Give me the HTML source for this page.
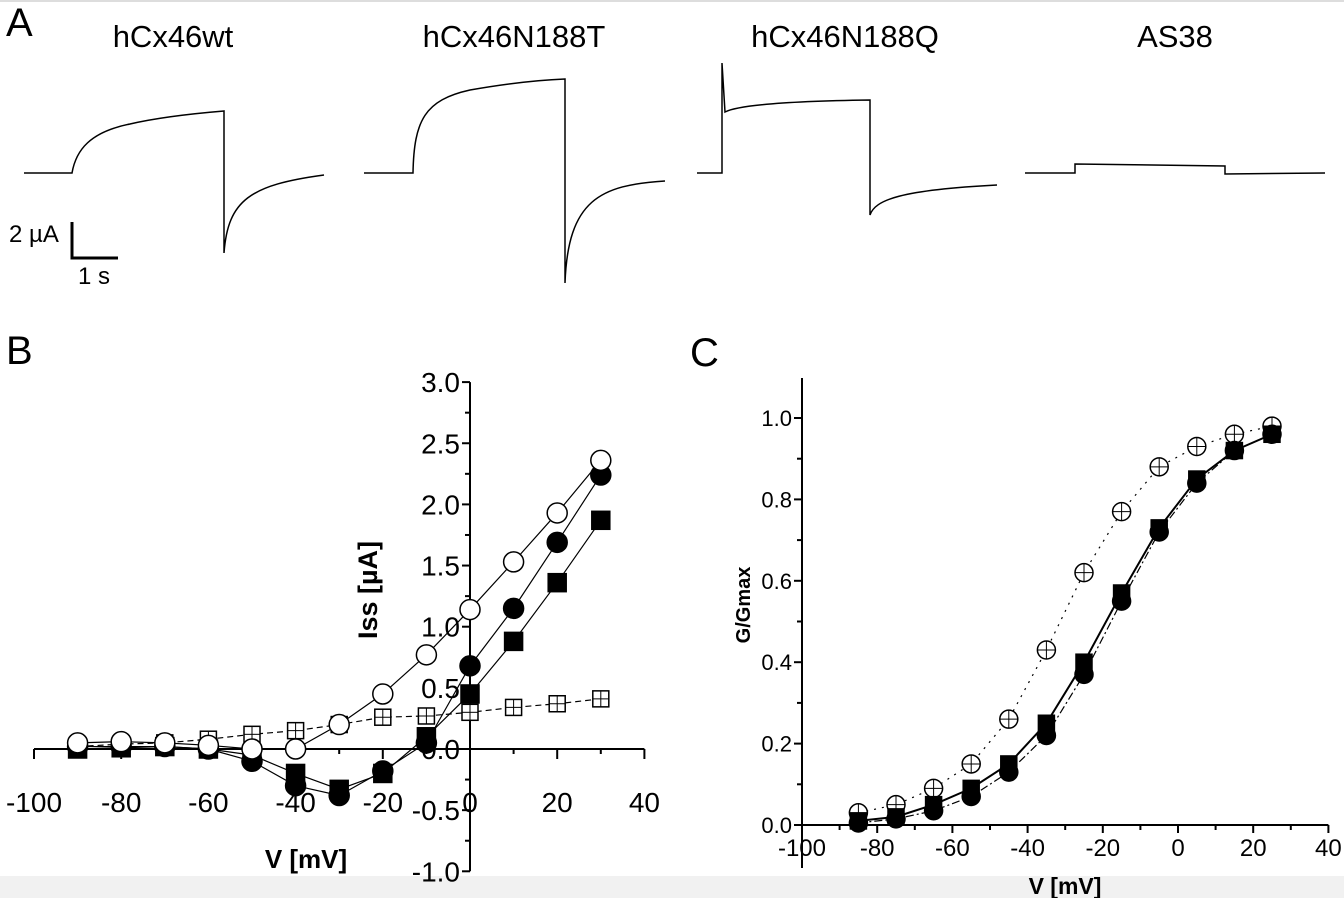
<!DOCTYPE html>
<html><head><meta charset="utf-8">
<style>
body{margin:0;background:#fff;}
svg{display:block;font-family:"Liberation Sans",Arial,sans-serif;}
</style></head>
<body>
<svg id="fig" width="1344" height="898" viewBox="0 0 1344 898" xmlns="http://www.w3.org/2000/svg">
<rect x="0" y="0" width="1344" height="898" fill="#fff"/>
<rect x="0" y="876" width="1344" height="22" fill="#f1f1f1"/>
<line x1="0" y1="1" x2="1344" y2="1" stroke="#ddd" stroke-width="2"/>
<g fill="none" stroke="#000" stroke-width="1.5">
<text x="6" y="36" font-size="40" fill="#000" stroke="none">A</text>
<text x="173" y="47" font-size="31" text-anchor="middle" fill="#000" stroke="none">hCx46wt</text>
<text x="514" y="47" font-size="31" text-anchor="middle" fill="#000" stroke="none">hCx46N188T</text>
<text x="845" y="47" font-size="31" text-anchor="middle" fill="#000" stroke="none">hCx46N188Q</text>
<text x="1175" y="47" font-size="31" text-anchor="middle" fill="#000" stroke="none">AS38</text>
<path d="M24 173 L72 173 C76 150 90 132 130 124 C160 117 200 113 224 111 L224 253 C228 200 250 185 324 175"/>
<path d="M364 173 L413 173 C414 120 425 100 470 90 C510 83 540 80 565 79 L565 283 C568 200 600 185 665 181"/>
<path d="M697 173 L722 173 L722 63 L725 112 C740 104 800 101 870 100 L870 215 C875 200 900 190 997 185"/>
<path d="M1025 173 L1075 173 L1075 164 L1225 166 L1225 174 L1325 173"/>
<path stroke-width="3" d="M72 222 L72 258 L118 258"/>
<text x="9" y="242" font-size="24" fill="#000" stroke="none">2 µA</text>
<text x="78" y="284" font-size="24" fill="#000" stroke="none">1 s</text>
</g>
<text x="6" y="364" font-size="40">B</text>
<text x="690" y="366" font-size="40">C</text>
<g id="pb"></g>
<g id="pc"></g>
</svg>
<script>
// Panel B data
const bVolt=[-90,-80,-70,-60,-50,-40,-30,-20,-10,0,10,20,30];
const bOpenCircle=[0.05,0.06,0.05,0.03,0.0,0.0,0.2,0.45,0.77,1.14,1.53,1.93,2.36];
const bFilledCircle=[0.02,0.02,0.02,0.0,-0.1,-0.3,-0.38,-0.18,0.05,0.68,1.15,1.69,2.24];
const bFilledSquare=[0.0,0.01,0.02,0.0,-0.05,-0.2,-0.33,-0.2,0.1,0.45,0.88,1.36,1.87];
const bCrossSquare=[0.02,0.04,0.05,0.08,0.12,0.15,0.2,0.26,0.27,0.3,0.34,0.37,0.41];
const bXTicks=[-100,-80,-60,-40,-20,0,20,40];
const bYTicks=[-1.0,-0.5,0.0,0.5,1.0,1.5,2.0,2.5,3.0];
// Panel C data
const cVolt=[-85,-75,-65,-55,-45,-35,-25,-15,-5,5,15,25];
const cOpenCircle=[0.03,0.05,0.09,0.15,0.26,0.43,0.62,0.77,0.88,0.93,0.96,0.98];
const cFilledSquare=[0.01,0.02,0.05,0.09,0.15,0.25,0.40,0.57,0.73,0.85,0.92,0.96];
const cFilledCircle=[0.005,0.015,0.035,0.07,0.13,0.22,0.37,0.55,0.72,0.84,0.92,0.96];
const cXTicks=[-100,-80,-60,-40,-20,0,20,40];
const cYTicks=[0.0,0.2,0.4,0.6,0.8,1.0];

const NS="http://www.w3.org/2000/svg";
function mk(parent,tag,attrs){const e=document.createElementNS(NS,tag);for(const k in attrs)e.setAttribute(k,attrs[k]);parent.appendChild(e);return e;}

const bx=v=>470+(v)*4.36, by=v=>749-v*122.3;
const cx=v=>1178+v*3.76, cy=v=>825-v*407;

function marker(g,type,x,y,r){
  let e;
  if(type==='oc'||type==='fc'||type==='ocx'){e=mk(g,'circle',{cx:x,cy:y,r:r,fill:type==='fc'?'#000':'#fff',stroke:'#000','stroke-width':1.5});}
  else{e=mk(g,'rect',{x:x-r,y:y-r,width:2*r,height:2*r,fill:type==='fs'?'#000':'#fff',stroke:'#000','stroke-width':1.5});}
  
  
  if(type==='cs'||type==='ocx'){
    const l1=mk(g,'line',{x1:x-r,y1:y,x2:x+r,y2:y,stroke:'#000','stroke-width':1});
    
    
    const l2=mk(g,'line',{x1:x,y1:y-r,x2:x,y2:y+r,stroke:'#000','stroke-width':1});
    
    
  }
}
function series(g,xs,ys,fx,fy,type,dash,r,name){
  const p=mk(g,'polyline',{points:xs.map((v,i)=>fx(v)+','+fy(ys[i])).join(' '),fill:'none',stroke:'#000','stroke-width':type==='fs'&&g.id==='pc'?2:1.2,'stroke-dasharray':dash});
  
  
  xs.forEach((v,i)=>marker(g,type,fx(v),fy(ys[i]),r));
}

// Panel B
const pb=document.getElementById('pb');
const axb=mk(pb,'g',{stroke:'#000','stroke-width':2});


mk(axb,'line',{x1:bx(-100),y1:by(0),x2:bx(40),y2:by(0)});
mk(axb,'line',{x1:470,y1:by(3),x2:470,y2:by(-1)});
bXTicks.forEach(t=>{mk(axb,'line',{x1:bx(t),y1:by(0),x2:bx(t),y2:by(0)+10});
  const tx=mk(pb,'text',{x:bx(t),y:by(0)+63,'font-size':28,'text-anchor':'middle'});tx.textContent=t;
  
  });
for(let t=-90;t<=30;t+=20) mk(axb,'line',{x1:bx(t),y1:by(0),x2:bx(t),y2:by(0)+5});
bYTicks.forEach(t=>{mk(axb,'line',{x1:470,y1:by(t),x2:462,y2:by(t)});
  const tx=mk(pb,'text',{x:460,y:by(t)+10,'font-size':28,'text-anchor':'end'});tx.textContent=t.toFixed(1);
  
  });
for(let t=-0.75;t<=2.8;t+=0.5) mk(axb,'line',{x1:470,y1:by(t),x2:465,y2:by(t)});
let t1=mk(pb,'text',{x:306,y:868,'font-size':26,'font-weight':'bold','text-anchor':'middle'});t1.textContent='V [mV]';


let t2=mk(pb,'text',{x:0,y:0,'font-size':27,'font-weight':'bold','text-anchor':'middle',transform:'translate(377,590) rotate(-90)'});t2.textContent='Iss [µA]';


series(pb,bVolt,bCrossSquare,bx,by,'cs','6,4',8,'as38');
series(pb,bVolt,bFilledSquare,bx,by,'fs','',9,'n188q');
series(pb,bVolt,bFilledCircle,bx,by,'fc','',10,'n188t');
series(pb,bVolt,bOpenCircle,bx,by,'oc','',10,'wt');

// Panel C
const pc=document.getElementById('pc');
const axc=mk(pc,'g',{stroke:'#000','stroke-width':2});


mk(axc,'line',{x1:cx(-100),y1:cy(0),x2:cx(40),y2:cy(0)});
mk(axc,'line',{x1:cx(-100),y1:378,x2:cx(-100),y2:868});
cXTicks.forEach(t=>{mk(axc,'line',{x1:cx(t),y1:cy(0),x2:cx(t),y2:cy(0)+8});
  const tx=mk(pc,'text',{x:cx(t),y:cy(0)+31,'font-size':24,'text-anchor':'middle'});tx.textContent=t;
  
  });
for(let t=-90;t<=30;t+=20) mk(axc,'line',{x1:cx(t),y1:cy(0),x2:cx(t),y2:cy(0)+5});
cYTicks.forEach(t=>{mk(axc,'line',{x1:cx(-100),y1:cy(t),x2:cx(-100)-8,y2:cy(t)});
  const tx=mk(pc,'text',{x:cx(-100)-10,y:cy(t)+8,'font-size':22,'text-anchor':'end'});tx.textContent=t.toFixed(1);
  
  });
for(let t=0.1;t<=1.05;t+=0.2) mk(axc,'line',{x1:cx(-100),y1:cy(t),x2:cx(-100)-5,y2:cy(t)});
let t3=mk(pc,'text',{x:1065,y:894,'font-size':23,'font-weight':'bold','text-anchor':'middle'});t3.textContent='V [mV]';


let t4=mk(pc,'text',{x:0,y:0,'font-size':20,'font-weight':'bold','text-anchor':'middle',transform:'translate(750,605) rotate(-90)'});t4.textContent='G/Gmax';


series(pc,cVolt,cOpenCircle,cx,cy,'ocx','2,6',9,'c-wt');
series(pc,cVolt,cFilledCircle,cx,cy,'fc','8,3,2,3',9,'c-n188t');
series(pc,cVolt,cFilledSquare,cx,cy,'fs','',8,'c-n188q');
</script>
</body></html>
